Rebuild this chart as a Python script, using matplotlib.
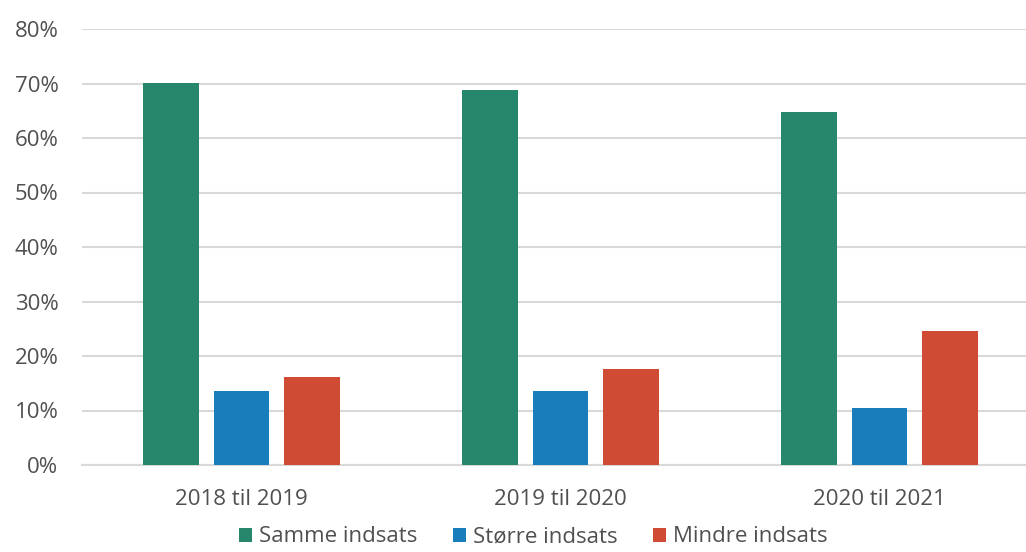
import numpy as np
import matplotlib.pyplot as plt

categories = ["2018 til 2019", "2019 til 2020", "2020 til 2021"]
series_names = ["Samme indsats", "Større indsats", "Mindre indsats"]
samme = [70.1, 68.8, 64.8]
storre = [13.6, 13.6, 10.5]
mindre = [16.1, 17.6, 24.5]
colors = ["#26876C", "#1A7DBB", "#CF4B33"]
yticks = [0, 10, 20, 30, 40, 50, 60, 70, 80]

plt.rcParams['font.family'] = ['Open Sans', 'DejaVu Sans']

fig = plt.figure(figsize=(10.26, 5.52), dpi=100)
ax = fig.add_axes([82 / 1026, 87 / 552, 957 / 1026, 436 / 552])

x = np.arange(len(categories))
width = 0.175
step = 0.221
for i, (vals, name, c) in enumerate(zip([samme, storre, mindre], series_names, colors)):
    ax.bar(x + (i - 1) * step, vals, width, color=c, label=name, zorder=3)

ax.set_xlim(-0.5, 2.5)
ax.set_ylim(0, 80)
ax.set_yticks(yticks)
ax.set_yticklabels([f"{v}%" for v in yticks])
ax.set_xticks(x)
ax.set_xticklabels(categories)
ax.grid(axis='y', color='#d9d9d9', linewidth=1.5, zorder=0)
for s in ['top', 'right', 'left']:
    ax.spines[s].set_visible(False)
ax.spines['bottom'].set_color('#d9d9d9')
ax.spines['bottom'].set_linewidth(1.5)
ax.tick_params(axis='both', length=0, labelsize=16, colors='#505050')
ax.tick_params(axis='x', pad=17)
ax.tick_params(axis='y', pad=17)

fig.legend(loc='lower center', bbox_to_anchor=(533 / 1026, -0.028), ncol=3, frameon=False,
           fontsize=16, labelcolor='#505050', handlelength=0.6, handleheight=0.6,
           handletextpad=0.3, columnspacing=1.6)

fig.savefig("out.png", dpi=100)
